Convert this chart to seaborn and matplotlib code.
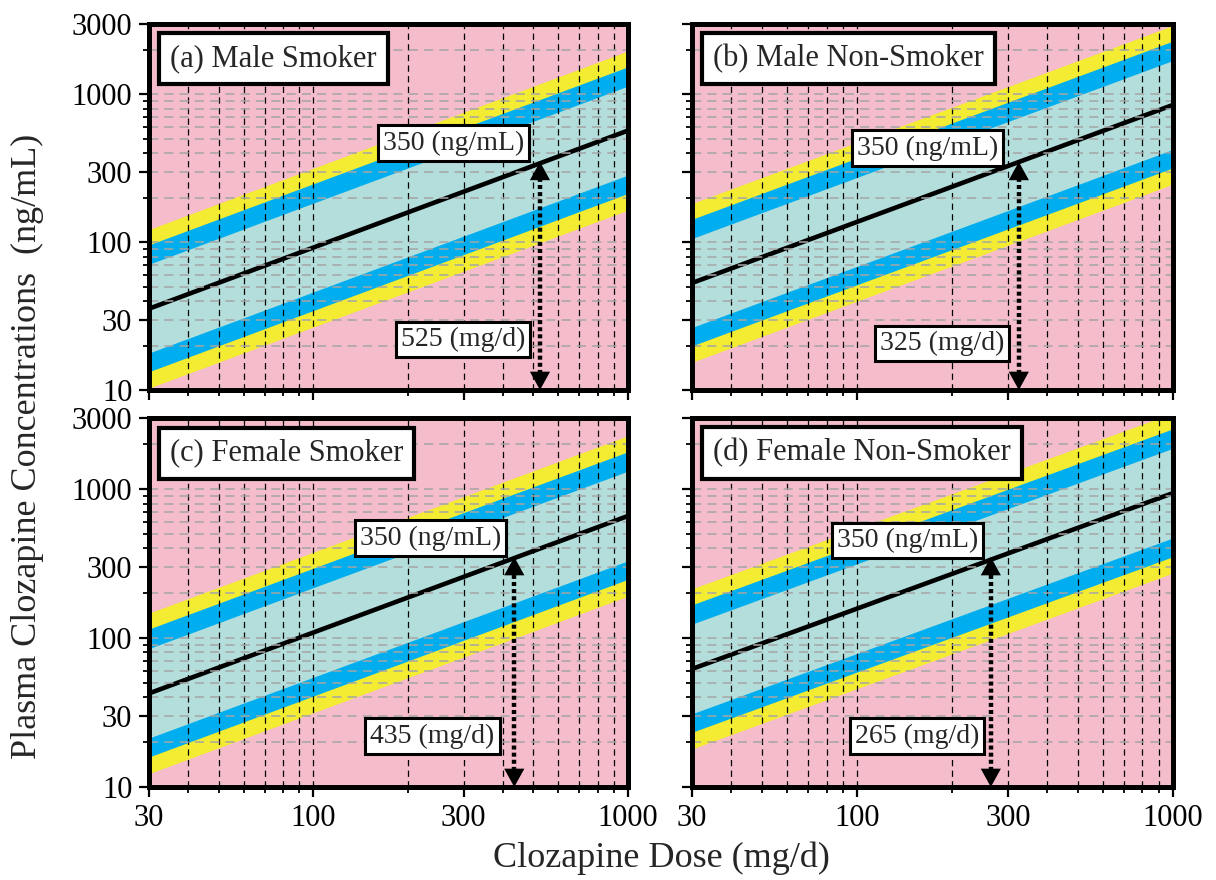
import matplotlib
matplotlib.use("Agg")
import matplotlib.pyplot as plt
from matplotlib.ticker import FixedLocator, FixedFormatter, NullFormatter
import seaborn as sns

# ---------------- data ----------------
dose_ends = [30, 1000]
panel_titles = ["(a) Male Smoker", "(b) Male Non-Smoker",
                "(c) Female Smoker", "(d) Female Non-Smoker"]
target_conc = 350
target_doses = [525, 325, 435, 265]

# boundaries (ng/mL): lower yellow, lower blue, lower teal, median,
# upper teal, upper blue, upper yellow -- at dose 30 and at dose 1000
a_at30 = [10.3, 13.3, 17.8, 35.5, 71, 96, 122]
a_at1000 = [165, 214, 285, 570, 1140, 1540, 1970]
b_at30 = [15.4, 19.9, 26.5, 53, 106, 143, 183]
b_at1000 = [247, 319, 425, 850, 1700, 2300, 2930]
c_at30 = [12.3, 15.9, 21.3, 42.5, 85, 115, 147]
c_at1000 = [191, 248, 330, 660, 1320, 1780, 2280]
d_at30 = [18, 23.3, 31, 62, 124, 167, 214]
d_at1000 = [273, 352, 470, 940, 1880, 2540, 3240]
bounds30 = [a_at30, b_at30, c_at30, d_at30]
bounds1000 = [a_at1000, b_at1000, c_at1000, d_at1000]

x_major = [30, 100, 300, 1000]
x_major_labels = ["30", "100", "300", "1000"]
x_minor = [40, 50, 60, 70, 80, 90, 200, 400, 500, 600, 700, 800, 900]
y_major = [10, 30, 100, 300, 1000, 3000]
y_major_labels = ["10", "30", "100", "300", "1000", "3000"]
y_minor = [20, 40, 50, 60, 70, 80, 90, 200, 400, 500, 600, 700, 800, 900, 2000]

# label box positions (axes fraction)
conc_box_pos = [(0.636, 0.675), (0.490, 0.661), (0.588, 0.675), (0.448, 0.667)]
dose_box_pos = [(0.655, 0.137), (0.520, 0.126), (0.592, 0.138), (0.468, 0.138)]

# ---------------- style ----------------
sns.set_theme(style="ticks")
plt.rcParams["font.family"] = ["Liberation Serif", "DejaVu Serif"]

PINK = "#F5BCCB"
YELLOW = "#F3EC32"
BLUE = "#00AEEF"
TEAL = "#B3DEDB"

fig = plt.figure(figsize=(12.16, 8.8), dpi=100)
positions = [
    [149 / 1216, 1 - 390 / 880, 479 / 1216, 366 / 880],
    [692 / 1216, 1 - 390 / 880, 481 / 1216, 366 / 880],
    [149 / 1216, 1 - 787 / 880, 479 / 1216, 369 / 880],
    [692 / 1216, 1 - 787 / 880, 481 / 1216, 369 / 880],
]

head_style = "-|>,head_length=0.6,head_width=0.33"

for i in range(4):
    ax = fig.add_axes(positions[i])
    ax.set_facecolor(PINK)
    ax.set_xscale("log")
    ax.set_yscale("log")
    lo = bounds30[i]
    hi = bounds1000[i]

    ax.fill_between(dose_ends, [lo[0], hi[0]], [lo[6], hi[6]], color=YELLOW, lw=0, zorder=1)
    ax.fill_between(dose_ends, [lo[1], hi[1]], [lo[5], hi[5]], color=BLUE, lw=0, zorder=1.1)
    ax.fill_between(dose_ends, [lo[2], hi[2]], [lo[4], hi[4]], color=TEAL, lw=0, zorder=1.2)
    sns.lineplot(x=dose_ends, y=[lo[3], hi[3]], ax=ax, color="black", lw=3.3, zorder=2)

    ax.set_xlim(30, 1000)
    ax.set_ylim(10, 3000)

    ax.xaxis.set_major_locator(FixedLocator(x_major))
    ax.xaxis.set_major_formatter(FixedFormatter(x_major_labels))
    ax.xaxis.set_minor_locator(FixedLocator(x_minor))
    ax.xaxis.set_minor_formatter(NullFormatter())
    ax.yaxis.set_major_locator(FixedLocator(y_major))
    ax.yaxis.set_major_formatter(FixedFormatter(y_major_labels))
    ax.yaxis.set_minor_locator(FixedLocator(y_minor))
    ax.yaxis.set_minor_formatter(NullFormatter())

    ax.set_axisbelow(False)
    ax.grid(True, which="both", axis="x", color="black", ls=(0, (5, 3.5)), lw=0.9)
    ax.grid(True, which="both", axis="y", color="#A5A5A5", ls=(0, (6, 4)), lw=1.1)

    ax.tick_params(which="major", direction="out", length=7, width=1.6, labelsize=22,
                   color="black", labelcolor="black", pad=5,
                   left=True, bottom=True, top=False, right=False)
    ax.tick_params(which="minor", direction="out", length=4, width=1.3, color="black",
                   left=True, bottom=True, top=False, right=False)
    ax.tick_params(axis="y", labelleft=(i % 2 == 0))
    ax.tick_params(axis="x", labelbottom=(i >= 2))
    for sp in ax.spines.values():
        sp.set_visible(True)
        sp.set_color("black")
        sp.set_linewidth(3.6)
        sp.set_zorder(5)
    ax.set_xlabel("")
    ax.set_ylabel("")

    # panel title box
    ax.text(0.044, 0.905, panel_titles[i], transform=ax.transAxes, fontsize=22,
            ha="left", va="center", zorder=6,
            bbox=dict(boxstyle="square,pad=0.36", fc="white", ec="black", lw=3))

    # concentration and dose boxes
    ax.text(conc_box_pos[i][0], conc_box_pos[i][1], f"{target_conc} (ng/mL)",
            transform=ax.transAxes, fontsize=20, ha="center", va="center", zorder=6,
            bbox=dict(boxstyle="square,pad=0.18", fc="white", ec="black", lw=2.2))
    ax.text(dose_box_pos[i][0], dose_box_pos[i][1], f"{target_doses[i]} (mg/d)",
            transform=ax.transAxes, fontsize=20, ha="center", va="center", zorder=6,
            bbox=dict(boxstyle="square,pad=0.18", fc="white", ec="black", lw=2.2))

    # dotted double arrow: dotted shaft + solid heads
    xd = target_doses[i]
    ax.plot([xd, xd], [11.5, target_conc * 0.85], color="black", lw=3.2,
            ls=(0, (0.9, 0.7)), solid_capstyle="butt", dash_capstyle="butt", zorder=7)
    ax.annotate("", xy=(xd, target_conc), xytext=(xd, target_conc * 0.6),
                annotation_clip=False, zorder=8,
                arrowprops=dict(arrowstyle=head_style, mutation_scale=22, lw=0,
                                fc="black", ec="black", shrinkA=0, shrinkB=0))
    ax.annotate("", xy=(xd, 10), xytext=(xd, 10 / 0.6),
                annotation_clip=False, zorder=8,
                arrowprops=dict(arrowstyle=head_style, mutation_scale=22, lw=0,
                                fc="black", ec="black", shrinkA=0, shrinkB=0))

fig.text(0.023, 0.493, "Plasma Clozapine Concentrations  (ng/mL)", rotation=90,
         ha="center", va="center", fontsize=26)
fig.text(0.544, 0.025, "Clozapine Dose (mg/d)", ha="center", va="center", fontsize=26)

fig.savefig("out.png", dpi=100)
